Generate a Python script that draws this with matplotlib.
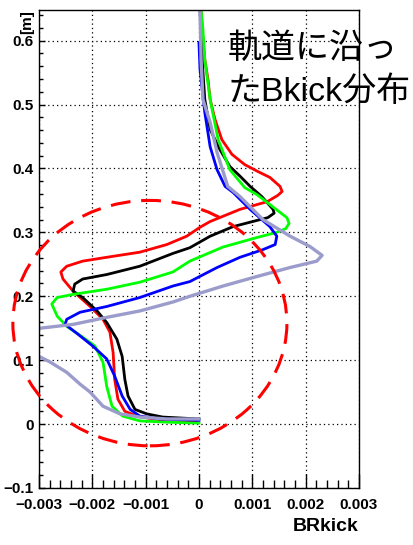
import matplotlib.pyplot as plt
from matplotlib.patches import Ellipse
from matplotlib.ticker import MultipleLocator

# BRkick profiles along the orbit (x: BRkick, y: position [m])
red_x = [0.04e-3, 0.075e-3, 0.11e-3, 0.17e-3, 0.21e-3, 0.30e-3, 0.43e-3, 0.62e-3, 0.86e-3, 1.11e-3,
         1.33e-3, 1.52e-3, 1.56e-3, 1.48e-3, 1.28e-3, 0.77e-3, 0.21e-3, 0.02e-3, -0.23e-3, -0.60e-3,
         -1.11e-3, -1.73e-3, -2.18e-3, -2.48e-3, -2.59e-3, -2.55e-3, -2.36e-3, -2.04e-3, -1.80e-3, -1.67e-3,
         -1.61e-3, -1.58e-3, -1.52e-3, -1.39e-3, -1.16e-3, -0.86e-3, -0.49e-3, -0.04e-3]
red_y = [0.648, 0.602, 0.570, 0.539, 0.508, 0.477, 0.445, 0.422, 0.406, 0.395,
         0.386, 0.372, 0.364, 0.358, 0.348, 0.336, 0.317, 0.308, 0.294, 0.281,
         0.269, 0.261, 0.255, 0.247, 0.238, 0.227, 0.208, 0.184, 0.164, 0.144,
         0.112, 0.070, 0.039, 0.020, 0.0125, 0.008, 0.005, 0.003]

black_x = [0.02e-3, 0.06e-3, 0.11e-3, 0.21e-3, 0.39e-3, 0.58e-3, 0.77e-3, 0.96e-3, 1.18e-3, 1.39e-3,
           1.41e-3, 1.29e-3, 1.01e-3, 0.64e-3, 0.21e-3, -0.17e-3, -0.49e-3, -1.11e-3, -1.73e-3, -2.18e-3,
           -2.33e-3, -2.36e-3, -2.18e-3, -1.91e-3, -1.73e-3, -1.54e-3, -1.44e-3, -1.39e-3, -1.33e-3, -1.20e-3,
           -0.98e-3, -0.68e-3, 0.0]
black_y = [0.648, 0.570, 0.508, 0.461, 0.430, 0.403, 0.388, 0.372, 0.356, 0.336,
           0.330, 0.323, 0.317, 0.309, 0.294, 0.276, 0.267, 0.247, 0.234, 0.227,
           0.219, 0.208, 0.198, 0.177, 0.159, 0.133, 0.106, 0.070, 0.044, 0.023,
           0.016, 0.011, 0.008]

green_x = [0.04e-3, 0.075e-3, 0.11e-3, 0.21e-3, 0.36e-3, 0.58e-3, 0.86e-3, 1.09e-3, 1.37e-3, 1.65e-3,
           1.69e-3, 1.63e-3, 1.46e-3, 1.09e-3, 0.45e-3, -0.17e-3, -0.49e-3, -1.11e-3, -1.73e-3, -2.36e-3,
           -2.66e-3, -2.76e-3, -2.66e-3, -2.48e-3, -2.18e-3, -1.95e-3, -1.80e-3, -1.73e-3, -1.63e-3, -1.43e-3,
           -1.11e-3, -0.60e-3, 0.0]
green_y = [0.648, 0.617, 0.570, 0.508, 0.445, 0.398, 0.370, 0.359, 0.341, 0.323,
           0.314, 0.306, 0.300, 0.292, 0.277, 0.255, 0.238, 0.222, 0.211, 0.203,
           0.198, 0.188, 0.169, 0.153, 0.136, 0.122, 0.097, 0.059, 0.028, 0.0125,
           0.005, 0.003, 0.0015]

blue_x = [0.0, 0.02e-3, 0.075e-3, 0.11e-3, 0.15e-3, 0.21e-3, 0.34e-3, 0.49e-3, 0.64e-3, 0.96e-3,
          1.33e-3, 1.46e-3, 1.43e-3, 1.20e-3, 0.77e-3, 0.34e-3, -0.17e-3, -0.49e-3, -1.11e-3, -1.73e-3,
          -2.23e-3, -2.48e-3, -2.51e-3, -2.29e-3, -1.99e-3, -1.73e-3, -1.58e-3, -1.44e-3, -1.29e-3, -1.11e-3,
          -0.73e-3, 0.0]
blue_y = [0.597, 0.555, 0.5125, 0.4875, 0.466, 0.434, 0.398, 0.372, 0.3625, 0.336,
          0.309, 0.294, 0.281, 0.273, 0.261, 0.245, 0.223, 0.216, 0.198, 0.184,
          0.175, 0.164, 0.156, 0.142, 0.122, 0.102, 0.075, 0.044, 0.023, 0.0125,
          0.008, 0.006]

lav_x = [0.02e-3, 0.04e-3, 0.075e-3, 0.21e-3, 0.34e-3, 0.54e-3, 0.77e-3, 1.20e-3, 1.71e-3, 2.08e-3,
         2.31e-3, 2.21e-3, 1.71e-3, 1.09e-3, 0.45e-3, -0.17e-3, -0.49e-3, -1.11e-3, -1.73e-3, -2.36e-3,
         -2.98e-3, -3.36e-3, -3.9e-3, -3.9e-3, -3.0e-3, -2.79e-3, -2.48e-3, -2.23e-3, -2.04e-3, -1.80e-3,
         -1.48e-3, -1.11e-3, -0.60e-3, 0.0]
lav_y = [0.648, 0.570, 0.508, 0.472, 0.425, 0.372, 0.356, 0.320, 0.294, 0.278,
         0.264, 0.255, 0.245, 0.231, 0.216, 0.200, 0.191, 0.177, 0.167, 0.156,
         0.150, 0.148, 0.135, 0.115, 0.106, 0.097, 0.081, 0.0625, 0.050, 0.028,
         0.016, 0.011, 0.008, 0.008]

x_ticks = [-0.003, -0.002, -0.001, 0, 0.001, 0.002, 0.003]
x_labels = ['\u22120.003', '\u22120.002', '\u22120.001', '0', '0.001', '0.002', '0.003']
y_ticks = [-0.1, 0, 0.1, 0.2, 0.3, 0.4, 0.5, 0.6]
y_labels = ['\u22120.1', '0', '0.1', '0.2', '0.3', '0.4', '0.5', '0.6']

fig = plt.figure(figsize=(4.13, 5.45), dpi=100)
ax = fig.add_axes([0.0944, 0.1046, 0.7746, 0.8771])

lw = 2.0
ax.plot(red_x, red_y, color='#ff0000', lw=lw)
ax.plot(black_x, black_y, color='black', lw=lw)
ax.plot(green_x, green_y, color='#00ff00', lw=lw)
ax.plot(blue_x, blue_y, color='#0000ff', lw=lw)
ax.plot(lav_x, lav_y, color='#9c9ccc', lw=2.4)

# highlighted region
circ = Ellipse((-0.00092, 0.158), 0.00514, 0.384, fill=False, edgecolor='#ff0000',
               lw=2.2, linestyle=(0, (6.5, 3.5)), clip_on=False, zorder=5)
ax.add_patch(circ)

ax.set_xlim(-0.003, 0.003)
ax.set_ylim(-0.1, 0.648)
ax.set_xticks(x_ticks)
ax.set_xticklabels(x_labels)
ax.set_yticks(y_ticks)
ax.set_yticklabels(y_labels)
ax.xaxis.set_minor_locator(MultipleLocator(0.0002))
ax.yaxis.set_minor_locator(MultipleLocator(0.02))

tick_font = dict(family='Liberation Sans', weight='bold', size=11)
for lab in ax.get_xticklabels() + ax.get_yticklabels():
    lab.set_fontproperties(tick_font)

ax.tick_params(axis='x', which='major', direction='in', length=10, width=1, pad=7, top=False)
ax.tick_params(axis='x', which='minor', direction='in', length=5.5, width=1, top=False)
ax.tick_params(axis='y', which='major', direction='in', length=4.5, width=1, pad=4, right=False)
ax.tick_params(axis='y', which='minor', direction='in', length=3, width=1, right=False)

ax.grid(True, which='major', color='black', linestyle=(0, (1, 2.5)), lw=0.9)
for s in ax.spines.values():
    s.set_linewidth(1.0)

fig.text(0.869, 0.018, 'BRkick', ha='right', va='bottom',
         family='Liberation Sans', weight='bold', size=14)
fig.text(27 / 413, 0.9817, '[m]', rotation=90, ha='center', va='top',
         family='Liberation Sans', weight='bold', size=11)

# title in two lines; latin letters from a narrower face
title_fam = ['Liberation Sans', 'Noto Sans CJK JP']
fig.text(228 / 413, 1 - 49 / 545, '軌道に沿っ', ha='left', va='center',
         family=title_fam, size=24.5)
fig.text(228 / 413, 1 - 92 / 545, 'たBkick分布', ha='left', va='center',
         family=title_fam, size=24.5)

fig.savefig('out.png', dpi=100)
